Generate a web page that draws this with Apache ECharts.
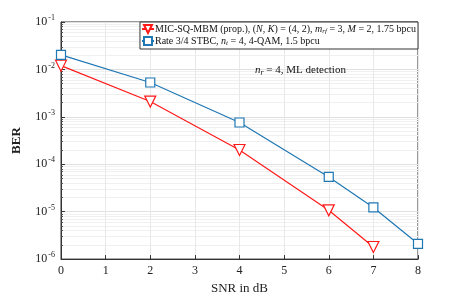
<!DOCTYPE html>
<html><head><meta charset="utf-8">
<script src="https://cdn.jsdelivr.net/npm/echarts@6/dist/echarts.min.js"></script>
<style>html,body{margin:0;padding:0;background:#fff}#c{width:463px;height:300px}</style>
</head><body><div id="c"></div>
<script>
const snrProp = [0, 2, 4, 6, 7];
const berProp = [0.012, 2.1e-3, 2.0e-4, 1.07e-5, 1.8e-6];
const snrStbc = [0, 2, 4, 6, 7, 8];
const berStbc = [0.0203, 5.3e-3, 7.6e-4, 5.4e-5, 1.23e-5, 2.1e-6];
const nameProp = 'MIC-SQ-MBM (prop.), (N,K) = (4,2), m_rf = 3, M = 2, 1.75 bpcu';
const nameStbc = 'Rate 3/4 STBC, n_t = 4, 4-QAM, 1.5 bpcu';
const xTicks = [0,1,2,3,4,5,6,7,8];

const serif = 'Liberation Serif';
const C = '#111';
const rich = {
  n: {fontFamily: serif, fontSize: 10, color: C},
  i: {fontFamily: serif, fontSize: 10, color: C, fontStyle: 'italic'},
  sub: {fontFamily: serif, fontSize: 7, color: C, fontStyle: 'italic', verticalAlign: 'bottom', padding: [5,0,0,0]}
};
const richBig = {
  n: {fontFamily: serif, fontSize: 11, color: C},
  i: {fontFamily: serif, fontSize: 11, color: C, fontStyle: 'italic'},
  sub: {fontFamily: serif, fontSize: 8, color: C, fontStyle: 'italic', verticalAlign: 'bottom', padding: [5,0,0,0]}
};
const chart = echarts.init(document.getElementById('c'));
chart.setOption({
  animation: false,
  textStyle: {fontFamily: serif},
  grid: {left: 61, right: 45, top: 22, bottom: 35, show: true, borderColor: '#333', borderWidth: 1, backgroundColor: '#fff'},
  xAxis: {
    type: 'value', min: 0, max: 8, interval: 1,
    axisLine: {lineStyle: {color: '#333'}},
    axisTick: {inside: true, length: 4, lineStyle: {color: '#333'}},
    axisLabel: {color: '#222', fontSize: 12, fontFamily: serif, margin: 6},
    splitLine: {lineStyle: {color: '#e8e8e8'}},
    name: 'SNR in dB', nameLocation: 'middle', nameGap: 20,
    nameTextStyle: {color: '#222', fontSize: 13, fontFamily: serif}
  },
  yAxis: {
    type: 'log', min: 1e-6, max: 1e-1, logBase: 10,
    axisLine: {lineStyle: {color: '#333'}},
    axisTick: {inside: true, length: 4, lineStyle: {color: '#333'}},
    minorTick: {show: true, splitNumber: 9, length: 2, lineStyle: {color: '#555'}},
    minorSplitLine: {show: true, lineStyle: {color: '#f0f0f0'}},
    splitLine: {lineStyle: {color: '#e0e0e0'}},
    axisLabel: {
      fontFamily: serif, color: '#222', margin: 6,
      formatter: v => '{b|10}{s|' + Math.round(Math.log10(v)) + '}',
      rich: {b: {fontSize: 12, fontFamily: serif, color: '#222'}, s: {fontSize: 8, fontFamily: serif, color: '#222', verticalAlign: 'top', padding: [0,0,8,1]}}
    },
    name: 'BER', nameLocation: 'middle', nameGap: 38, nameRotate: 90,
    nameTextStyle: {color: '#222', fontSize: 13, fontFamily: serif, fontWeight: 'bold'}
  },
  legend: {
    show: true, orient: 'vertical', right: 45, top: 22, itemGap: 1, itemWidth: 12, itemHeight: 10,
    padding: [2, 2, 2, 1], backgroundColor: '#fff', borderColor: '#333', borderWidth: 1, borderRadius: 0,
    textStyle: {fontFamily: serif, fontSize: 10, color: C, padding: [0,0,0,-4], rich: rich},
    formatter: n => n === nameProp
      ? '{n|MIC-SQ-MBM (prop.), (}{i|N}{n|, }{i|K}{n|) = (4, 2), }{i|m}{sub|rf}{n| = 3, }{i|M}{n| = 2, 1.75 bpcu}'
      : '{n|Rate 3/4 STBC, }{i|n}{sub|t}{n| = 4, 4-QAM, 1.5 bpcu}',
    data: [nameProp, nameStbc]
  },
  graphic: [{
    type: 'text', left: 255, top: 65, z: 100,
    style: {text: '{i|n}{sub|r}{n| = 4, ML detection}', rich: richBig, fontFamily: serif, fontSize: 11, fill: C}
  }],
  series: [
    {
      name: nameProp, type: 'line', data: snrProp.map((x, i) => [x, berProp[i]]),
      lineStyle: {color: '#ff1a1a', width: 1.2}, itemStyle: {color: '#fff', borderColor: '#ff1a1a', borderWidth: 1.2},
      symbol: 'triangle', symbolRotate: 180, symbolSize: 11, showAllSymbol: true, color: '#ff1a1a'
    },
    {
      name: nameStbc, type: 'line', data: snrStbc.map((x, i) => [x, berStbc[i]]),
      lineStyle: {color: '#1f77b4', width: 1.2}, itemStyle: {color: '#fff', borderColor: '#1f77b4', borderWidth: 1.2},
      symbol: 'rect', symbolSize: 9, showAllSymbol: true, color: '#1f77b4'
    }
  ]
});
</script></body></html>
